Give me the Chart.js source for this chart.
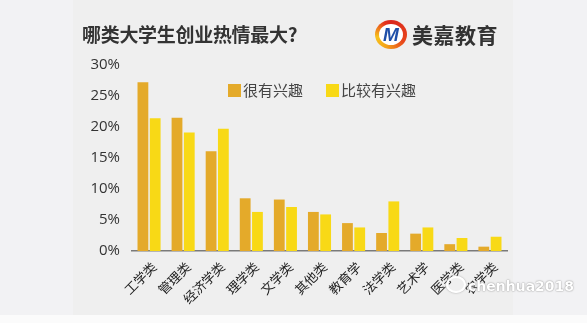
<!DOCTYPE html>
<html>
<head>
<meta charset="utf-8">
<script src="https://cdn.jsdelivr.net/npm/chart.js@4/dist/chart.umd.min.js"></script>
<style>
  html, body { margin:0; padding:0; }
  body { width:587px; height:323px; background:#f2f2f4; position:relative; overflow:hidden; font-family:"Noto Sans CJK SC", sans-serif; }
  #panel { position:absolute; left:73px; top:0; width:440px; height:315px; background:#efefef; }
  #bottom { position:absolute; left:0; top:315px; width:587px; height:8px; background:#fbfbfb; }
  #wrap { position:absolute; left:0; top:0; width:587px; height:323px; }
  #title { position:absolute; left:82px; top:21px; font-size:19px; font-weight:700; color:#333; line-height:26px; white-space:nowrap; letter-spacing:-0.3px; }
  #logo { position:absolute; left:375px; top:20px; width:32px; height:29px; border-radius:50%;
          background:conic-gradient(#d9261c 0deg, #e8461c 120deg, #f3a21b 200deg, #f7c21c 260deg, #e5331b 330deg, #d9261c 360deg); }
  #logo .in { position:absolute; left:4px; top:4px; width:24px; height:21px; border-radius:50%; background:#fff; }
  #logo .m { position:absolute; left:0; top:0; width:32px; height:29px; text-align:center; line-height:29px; font-family:"Liberation Sans", Arial, sans-serif; font-weight:900; font-style:italic; font-size:19px; color:#1f4fa8; }
  #brand { position:absolute; left:412px; top:19px; font-size:21px; font-weight:700; color:#333; line-height:30px; white-space:nowrap; letter-spacing:0.5px; }
  .leg { position:absolute; top:81px; font-size:15px; color:#444; line-height:18px; white-space:nowrap; }
  .leg i { display:inline-block; width:13px; height:13px; vertical-align:-1px; margin-right:2px; }
  #wm { position:absolute; left:446px; top:276px; white-space:nowrap; font-family:"DejaVu Sans", sans-serif; font-weight:700; font-size:14px; color:#fff; text-shadow:0 0 1px #888, 0 0 2px #aaa; }
  #wm .ic { display:inline-block; width:16px; height:13px; border-radius:50%; border:2px solid #fff; box-shadow:0 0 2px #999; vertical-align:-2px; margin-right:2px; }
</style>
</head>
<body>
<div id="panel"></div>
<div id="bottom"></div>
<div id="wrap"><canvas id="c" width="587" height="323"></canvas></div>
<div id="title">哪类大学生创业热情最大?</div>
<div id="logo"><div class="in"></div><div class="m">M</div></div>
<div id="brand">美嘉教育</div>
<div class="leg" id="leg1" style="left:228px;"></div>
<div class="leg" id="leg2" style="left:326px;"></div>
<div id="wm"><span class="ic"></span>chenhua2018</div>
<script>
const categories = ["工学类","管理类","经济学类","理学类","文学类","其他类","教育学","法学类","艺术学","医学类","农学类"];
const seriesNames = ["很有兴趣","比较有兴趣"];
const veryInterested = [27.2, 21.5, 16.1, 8.5, 8.3, 6.3, 4.5, 2.9, 2.8, 1.1, 0.7];
const fairlyInterested = [21.4, 19.1, 19.7, 6.3, 7.1, 5.9, 3.8, 8.0, 3.8, 2.1, 2.3];
const yTicks = [0, 5, 10, 15, 20, 25, 30];
const colors = ["#e4aa2a", "#f8d916"];

document.getElementById('leg1').innerHTML = '<i style="background:'+colors[0]+'"></i>' + seriesNames[0];
document.getElementById('leg2').innerHTML = '<i style="background:'+colors[1]+'"></i>' + seriesNames[1];

new Chart(document.getElementById('c'), {
  type: 'bar',
  data: {
    labels: categories,
    datasets: [
      { label: seriesNames[0], data: veryInterested, backgroundColor: colors[0], categoryPercentage: 0.72, barPercentage: 0.88 },
      { label: seriesNames[1], data: fairlyInterested, backgroundColor: colors[1], categoryPercentage: 0.72, barPercentage: 0.88 }
    ]
  },
  options: {
    responsive: false,
    animation: false,
    layout: { padding: { left: 0, right: 80, top: 65, bottom: 0 } },
    plugins: { legend: { display: false }, tooltip: { enabled: false } },
    scales: {
      x: {
        grid: { display: false, drawTicks: false },
        border: { display: true, color: '#7a7a7a', width: 1.5 },
        ticks: { color: '#222', font: { family: '"Noto Sans CJK SC"', size: 13 }, maxRotation: 45, minRotation: 45, padding: 8, labelOffset: 5 },
        afterFit: s => { s.height = 72; }
      },
      y: {
        min: 0, max: 30,
        grid: { display: false, drawTicks: false },
        border: { display: false },
        afterBuildTicks: s => { s.ticks = yTicks.map(v => ({ value: v })); },
        ticks: { color: '#333', font: { family: '"Open Sans"', size: 15 }, padding: 12, callback: v => v + '%' },
        afterFit: s => { s.width = 132; }
      }
    }
  }
});
</script>
</body>
</html>
